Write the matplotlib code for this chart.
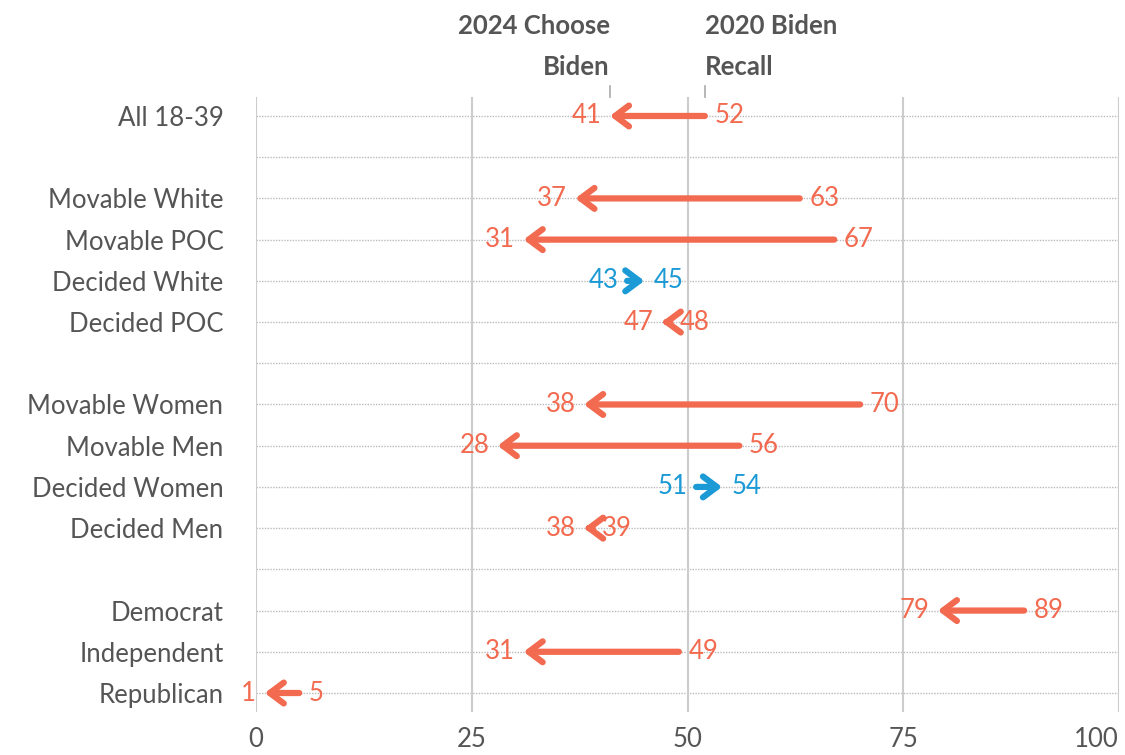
import numpy as np
import matplotlib.pyplot as plt

plt.rcParams['font.family'] = ['Lato', 'DejaVu Sans']

groups = ['All 18-39', '', 'Movable White', 'Movable POC', 'Decided White', 'Decided POC', '',
          'Movable Women', 'Movable Men', 'Decided Women', 'Decided Men', '',
          'Democrat', 'Independent', 'Republican']
recall_2020 = [52, None, 63, 67, 43, 48, None, 70, 56, 51, 39, None, 89, 49, 5]
choose_2024 = [41, None, 37, 31, 45, 47, None, 38, 28, 54, 38, None, 79, 31, 1]

red = '#F26A4F'
blue = '#1B9AD6'
grey_txt = '#555555'
fs = 18.5

fig = plt.figure(figsize=(11.25, 7.55), dpi=100)
ax = fig.add_axes([0.2276, 0.057, 0.7671, 0.8145])

n = len(groups)
ypos = np.arange(n)
ax.set_xlim(0, 100)
ax.set_ylim(n - 0.54, -0.46)

for x in [0, 25, 50, 75, 100]:
    ax.axvline(x, color='#cccccc', lw=1.5, zorder=1)
for y in ypos:
    ax.axhline(y, color='#bbbbbb', lw=1, ls=(0, (1, 1)), zorder=0)

for y, a, b in zip(ypos, recall_2020, choose_2024):
    if a is None:
        continue
    c = red if b < a else blue
    ax.annotate('', xy=(b, y), xytext=(a, y),
                arrowprops=dict(arrowstyle='->,head_length=1.0,head_width=0.75',
                                color=c, lw=4.5, capstyle='round',
                                joinstyle='round', shrinkA=0, shrinkB=0),
                zorder=3)
    lo, hi = (b, a) if b < a else (a, b)
    ax.annotate(str(lo), (lo, y), xytext=(-6, 0), textcoords='offset points',
                ha='right', va='center', color=c, fontsize=fs)
    ax.annotate(str(hi), (hi, y), xytext=(7, 0), textcoords='offset points',
                ha='left', va='center', color=c, fontsize=fs)

ax.set_yticks(ypos)
ax.set_yticklabels(groups, fontsize=fs, color=grey_txt)
ax.set_xticks([0, 25, 50, 75, 100])
ax.set_xticklabels(['0', '25', '50', '75', '100'], fontsize=fs, color=grey_txt)
ax.get_xticklabels()[-1].set_ha('right')
ax.tick_params(axis='both', length=0)
ax.tick_params(axis='y', pad=23.5)
ax.tick_params(axis='x', pad=11)
for s in ax.spines.values():
    s.set_visible(False)

# header labels over the first row
ax.annotate('2024 Choose\nBiden', (choose_2024[0], -0.46), xytext=(0, 13),
            textcoords='offset points', ha='right', va='bottom',
            fontsize=fs, fontweight='bold', color=grey_txt, linespacing=1.85,
            annotation_clip=False, multialignment='right')
ax.annotate('2020 Biden\nRecall', (recall_2020[0], -0.46), xytext=(0, 13),
            textcoords='offset points', ha='left', va='bottom',
            fontsize=fs, fontweight='bold', color=grey_txt, linespacing=1.85,
            annotation_clip=False, multialignment='left')
for v in [choose_2024[0], recall_2020[0]]:
    ax.plot([v, v], [-0.46, -0.72], color='#aaaaaa', lw=1.2, clip_on=False)

fig.savefig('out.png', dpi=100)
